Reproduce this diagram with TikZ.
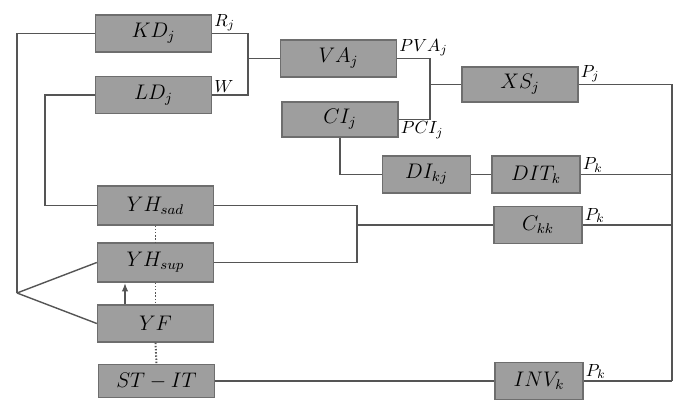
\documentclass[tikz,border=0pt]{standalone}
\usepackage{amsmath,amssymb}
\usepackage{tikz}
\usetikzlibrary{arrows.meta,positioning,calc}
\definecolor{boxfill}{RGB}{158,158,158}
\definecolor{boxline}{RGB}{110,110,110}
\definecolor{wirecolor}{RGB}{85,85,85}

\begin{document}
\begin{tikzpicture}[every node/.style={font=\large},
    blk/.style={draw=boxline, fill=boxfill, line width=0.8pt, minimum height=0.74cm, inner sep=1pt},
    wide/.style={blk, minimum width=2.32cm},
    narrow/.style={blk, minimum width=1.76cm},
    wire/.style={draw=wirecolor, line width=0.8pt},
    lab/.style={font=\normalsize, inner sep=1pt}]
    \useasboundingbox (0,0) rectangle (13.5,8.02);
    % Blocks (named nodes for wiring)
    \node[wide] (kd) at (3.07,7.35) {$KD_j$};
    \node[wide] (ld) at (3.07,6.12) {$LD_j$};
    \node[wide] (va) at (6.77,6.85) {$VA_j$};
    \node[wide, minimum height=0.70cm] (ci) at (6.80,5.63) {$CI_j$};
    \node[wide, minimum height=0.70cm] (xs) at (10.40,6.33) {$XS_j$};
    \node[narrow] (di) at (8.53,4.53) {$DI_{kj}$};
    \node[narrow] (dit) at (10.72,4.53) {$DIT_k$};
    \node[wide, minimum height=0.78cm] (yhsad) at (3.11,3.91) {$YH_{sad}$};
    \node[wide, minimum height=0.78cm] (yhsup) at (3.11,2.77) {$YH_{sup}$};
    \node[wide] (yf) at (3.11,1.55) {$YF$};
    \node[wide, minimum height=0.66cm] (stit) at (3.13,0.40) {$ST-IT$};
    \node[narrow] (ckk) at (10.76,3.52) {$C_{kk}$};
    \node[narrow] (inv) at (10.78,0.40) {$INV_k$};
    % Junction points
    \coordinate (jl) at (0.34,2.16);
    \coordinate (ji) at (0.90,0);
    \coordinate (ja) at (4.96,6.85);
    \coordinate (jb) at (8.60,6.33);
    \coordinate (jm) at (7.14,3.52);
    \coordinate (rb) at (13.44,0.40);
    % Top group: KD/LD -> VA, VA/CI -> XS
    \draw[wire] (kd.east) -| (ja);
    \draw[wire] (ld.east) -| (ja);
    \draw[wire] (ja) -- (va.west);
    \draw[wire] (va.east) -| (jb);
    \draw[wire] (ci.east) -| (jb);
    \draw[wire] (jb) -- (xs.west);
    \draw[wire] (ci.south) |- (di.west);
    \draw[wire] (di.east) -- (dit.west);
    % Right bus
    \draw[wire] (xs.east) -| (rb);
    \foreach \b in {dit, ckk} {
      \draw[wire] (\b.east) -- (\b.east -| rb);
    }
    \draw[wire] (inv.east) -- (rb);
    % Left feedback lines
    \draw[wire] (kd.west) -| (jl);
    \draw[wire] (jl) -- (yhsup.west);
    \draw[wire] (jl) -- (yf.west);
    \draw[wire] (ld.west) -| (ji |- yhsad.west) -- (yhsad.west);
    % YH pair -> C
    \draw[wire] (yhsad.east) -| (jm);
    \draw[wire] (yhsup.east) -| (jm);
    \draw[wire] (jm) -- (ckk.west);
    \draw[wire] (stit.east) -- (inv.west);
    % Dotted stack links and the YF arrow
    \draw[wire, densely dotted, line width=1.1pt] (yhsad.south) -- (yhsup.north);
    \draw[wire, densely dotted, line width=1.1pt] (yhsup.south) -- (yf.north);
    \draw[wire, densely dotted, line width=1.1pt] (yf.south) -- (stit.north);
    \draw[wire, line width=1pt, -{Latex[length=5pt]}] ([xshift=-0.61cm]yf.north) -- ([xshift=-0.61cm]yhsup.south);
    % Signal labels
    \node[lab, above right] at (kd.east) {$R_j$};
    \node[lab, above right] at (ld.east) {$W$};
    \node[lab, above right] at (va.east) {$PVA_j$};
    \node[lab, below right] at (ci.east) {$PCI_j$};
    \node[lab, above right] at (xs.east) {$P_j$};
    \node[lab, above right] at (dit.east) {$P_k$};
    \node[lab, above right] at (ckk.east) {$P_k$};
    \node[lab, above right] at (inv.east) {$P_k$};
\end{tikzpicture}
\end{document}
